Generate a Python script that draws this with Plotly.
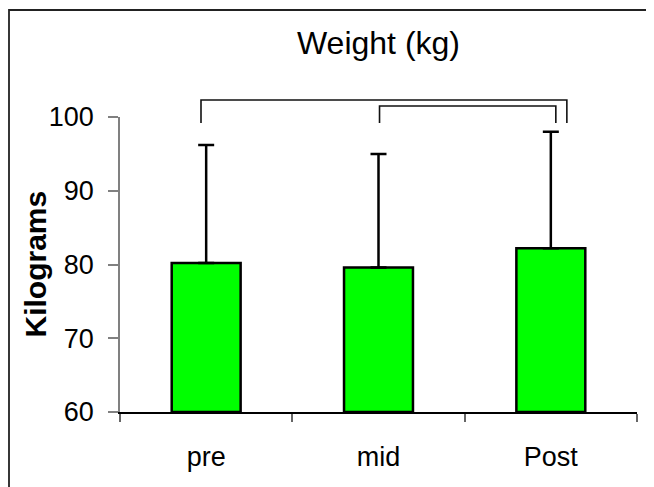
import plotly.graph_objects as go

categories = ["pre", "mid", "Post"]
means = [80.2, 79.6, 82.2]
sds = [16.0, 15.4, 15.8]
y_ticks = [60, 70, 80, 90, 100]

# brackets: (x_left, x_right, y_top, y_bottom) in category index / data units
brackets = [(-0.03, 2.093, 102.3, 99.2), (1.006, 2.029, 101.5, 99.2)]

FONT = "Liberation Sans, Arial, sans-serif"
fig = go.Figure()
fig.add_trace(go.Bar(
    x=categories, y=[m - 60 for m in means], base=60,
    width=0.4,
    marker=dict(color="#00FF00", line=dict(color="black", width=2.5)),
    error_y=dict(type="data", symmetric=False, array=sds,
                 arrayminus=[0] * len(sds), color="black",
                 thickness=2.5, width=8),
))

y0, y1 = 60, 100
def yp(v):
    return (v - y0) / (y1 - y0)

shapes = []
for xl, xr, yt, yb in brackets:
    shapes.append(dict(type="path", xref="x", yref="paper",
                       path=f"M {xl},{yp(yb)} L {xl},{yp(yt)} L {xr},{yp(yt)} L {xr},{yp(yb)}",
                       line=dict(color="#111", width=1.6)))
# outer border: left and top edges only
shapes.append(dict(type="path", xref="paper", yref="paper",
                   path="M -0.2147,-0.5 L -0.2147,1.3627 L 1.3,1.3627",
                   line=dict(color="#222", width=1.8)))

W, H = 646, 479
fig.update_layout(
    width=W, height=H,
    margin=dict(l=112, r=17, t=109, b=75),
    paper_bgcolor="white", plot_bgcolor="white",
    showlegend=False,
    font=dict(family=FONT, size=26, color="black"),
    title=dict(text="Weight (kg)", x=0.5, xref="paper", xanchor="center",
               y=1 - 35 / H, yanchor="middle",
               font=dict(family=FONT, size=32, color="black")),
    shapes=shapes,
    annotations=[dict(text="<b>Kilograms</b>", xref="paper", yref="paper",
                      x=-0.1644, y=0.5, xanchor="center", yanchor="middle",
                      textangle=-90, showarrow=False,
                      font=dict(family=FONT, size=30, color="black"))],
)
fig.update_xaxes(
    type="category", range=[-0.5, 2.5],
    showline=True, linecolor="black", linewidth=1.5,
    ticks="outside", tickson="boundaries", ticklen=8, tickcolor="#666", tickwidth=1.5,
    ticklabelstandoff=20,
    tickfont=dict(family=FONT, size=27, color="black"),
    showgrid=False, zeroline=False,
)
fig.update_yaxes(
    range=[y0, y1], tickvals=y_ticks,
    showline=True, linecolor="#808080", linewidth=1.5,
    ticks="outside", ticklen=10, tickcolor="#808080", tickwidth=1.5,
    ticklabelstandoff=9,
    tickfont=dict(family=FONT, size=27, color="black"),
    showgrid=False, zeroline=False,
)
fig.write_html("out.html")
